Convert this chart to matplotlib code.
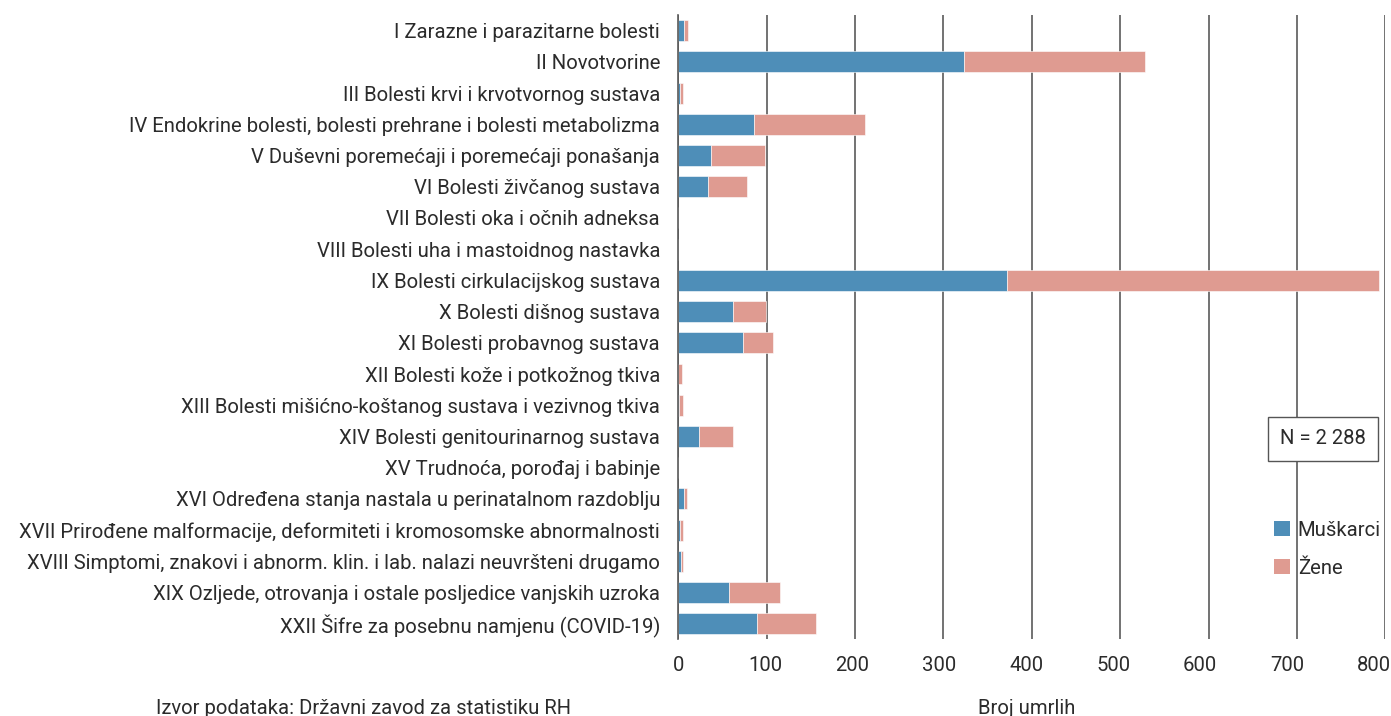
import numpy as np
import matplotlib
matplotlib.use("Agg")
import matplotlib.pyplot as plt
from matplotlib.patches import Patch
from matplotlib.transforms import ScaledTranslation

# categories (MKB-10 skupine) and deaths by sex
categories = [
    "I Zarazne i parazitarne bolesti",
    "II Novotvorine",
    "III Bolesti krvi i krvotvornog sustava",
    "IV Endokrine bolesti, bolesti prehrane i bolesti metabolizma",
    "V Duševni poremećaji i poremećaji ponašanja",
    "VI Bolesti živčanog sustava",
    "VII Bolesti oka i očnih adneksa",
    "VIII Bolesti uha i mastoidnog nastavka",
    "IX Bolesti cirkulacijskog sustava",
    "X Bolesti dišnog sustava",
    "XI Bolesti probavnog sustava",
    "XII Bolesti kože i potkožnog tkiva",
    "XIII Bolesti mišićno-koštanog sustava i vezivnog tkiva",
    "XIV Bolesti genitourinarnog sustava",
    "XV Trudnoća, porođaj i babinje",
    "XVI Određena stanja nastala u perinatalnom razdoblju",
    "XVII Prirođene malformacije, deformiteti i kromosomske abnormalnosti",
    "XVIII Simptomi, znakovi i abnorm. klin. i lab. nalazi neuvršteni drugamo",
    "XIX Ozljede, otrovanja i ostale posljedice vanjskih uzroka",
    "XXII Šifre za posebnu namjenu (COVID-19)",
]
muskarci = [7, 323, 2, 86, 37, 34, 0, 0, 372, 62, 73, 0, 1, 24, 0, 7, 2, 3, 58, 89]
zene = [4, 205, 3, 125, 61, 44, 0, 0, 421, 37, 34, 4, 5, 38, 0, 3, 3, 3, 57, 67]
xticks = [0, 100, 200, 300, 400, 500, 600, 700, 800]

BLUE = "#4e8eb8"
PINK = "#df9b91"
TXT = "#2b2b2b"
FS = 14.6

plt.rcParams['font.family'] = ['Roboto', 'DejaVu Sans']

fig = plt.figure(figsize=(13.91, 7.16), dpi=100)
ax = fig.add_axes([0.4875, 0.107, 0.5085, 0.872])

y = np.arange(len(categories))
m = np.array(muskarci)
z = np.array(zene)
ax.barh(y, m, height=0.67, color=BLUE, edgecolor='white', linewidth=0.4, zorder=3)
ax.barh(y, z, left=m, height=0.67, color=PINK, edgecolor='white', linewidth=0.4, zorder=3)

ax.set_xlim(0, 800)
ax.set_ylim(len(categories) - 0.5, -0.5)
ax.set_xticks(xticks)
ax.set_yticks(y)
ax.set_yticklabels(categories, fontsize=FS, color=TXT)
ax.tick_params(axis='both', length=0, colors=TXT)
ax.tick_params(axis='x', labelsize=FS, pad=12)
ax.tick_params(axis='y', pad=13)
ax.grid(axis='x', color='#5a5a5a', linewidth=1.2, zorder=0)
for s in ['top', 'right', 'bottom']:
    ax.spines[s].set_visible(False)
ax.spines['left'].set_color('#5a5a5a')
ax.spines['left'].set_linewidth(1.2)
ax.spines['left'].set_zorder(4)

# tick labels sit a little left of their gridlines in the original
for i, lab in enumerate(ax.get_xticklabels()):
    lab.set_transform(lab.get_transform() + ScaledTranslation(-1.4 * i / 100, 0, fig.dpi_scale_trans))

# N box
fig.text(0.9512, 0.387, "N = 2 288", fontsize=FS, color=TXT, ha='center', va='center',
         bbox=dict(boxstyle='square,pad=0.6', facecolor='white', edgecolor='#555555', linewidth=1))

handles = [Patch(facecolor=BLUE), Patch(facecolor=PINK)]
fig.legend(handles, ["Muškarci", "Žene"], loc='center left', bbox_to_anchor=(0.903, 0.233),
           frameon=False, fontsize=FS, handlelength=0.75, handleheight=0.75,
           handletextpad=0.4, labelspacing=0.95, labelcolor=TXT)

fig.text(0.261, 1 - 708 / 716, "Izvor podataka: Državni zavod za statistiku RH", fontsize=FS,
         color=TXT, ha='center', va='center')
fig.text(0.738, 1 - 708 / 716, "Broj umrlih", fontsize=FS, color=TXT, ha='center', va='center')

fig.savefig("out.png", dpi=100, facecolor='white')
